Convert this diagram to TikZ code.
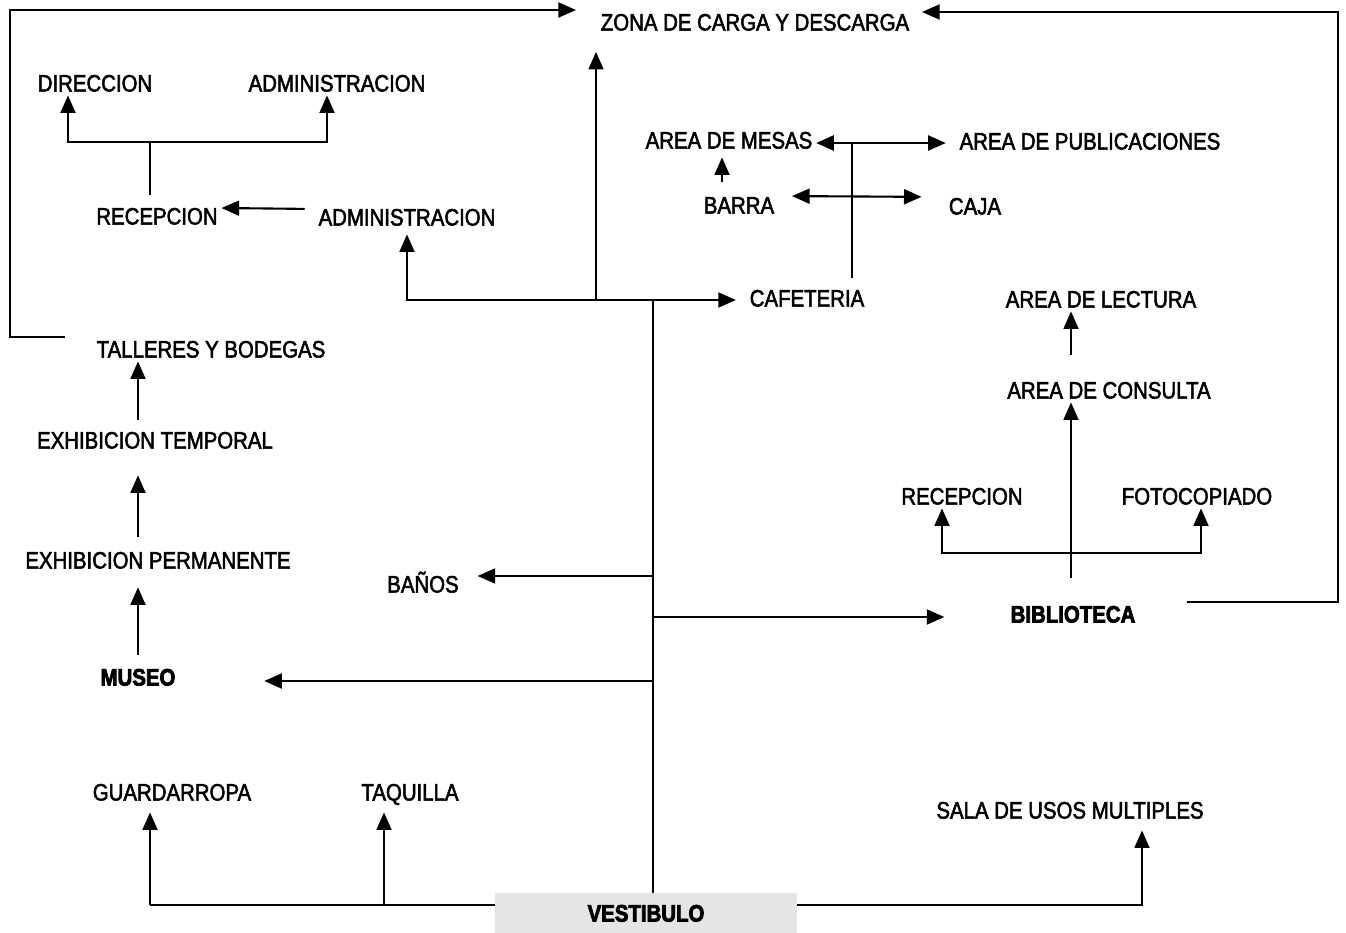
\documentclass[tikz,border=0pt]{standalone}
\usepackage{fontspec}
\setmainfont[FakeStretch=0.86, FakeBold=2.2, BoldFeatures={FakeBold=3.2}]{Liberation Sans}
\usetikzlibrary{arrows.meta}

\begin{document}
\begin{tikzpicture}[x=0.02cm, y=-0.02cm,
  lbl/.style={inner sep=2pt, text height=9.7pt, text depth=0pt,
              font=\fontsize{13.5}{16}\selectfont},
  strong/.style={lbl, font=\fontsize{13.5}{16}\selectfont\bfseries},
  hall/.style={strong, fill=black!10, minimum width=6.04cm, minimum height=0.8cm},
  link/.style={line width=1.2pt, black},
  arrow/.style={link, -{Triangle[length=10pt, width=8.5pt]}},
  both/.style={link, {Triangle[length=10pt, width=8.5pt]}-{Triangle[length=10pt, width=8.5pt]}}
]
\useasboundingbox (0,0) rectangle (1346,933);

% areas
\node[lbl] (zona) at (755,22) {ZONA DE CARGA Y DESCARGA};
\node[lbl] (dir) at (95,83) {DIRECCION};
\node[lbl] (adm1) at (337,83) {ADMINISTRACION};
\node[lbl] (rec1) at (157,216) {RECEPCION};
\node[lbl] (adm2) at (407,217) {ADMINISTRACION};
\node[lbl] (talleres) at (211,349) {TALLERES Y BODEGAS};
\node[lbl] (temp) at (155,440) {EXHIBICION TEMPORAL};
\node[lbl] (perm) at (158,560) {EXHIBICION PERMANENTE};
\node[strong] (museo) at (138,677) {MUSEO};
\node[lbl] (banos) at (423,584) {BAÑOS};
\node[lbl] (guard) at (172,792) {GUARDARROPA};
\node[lbl] (taq) at (410,792) {TAQUILLA};
\node[hall] (vest) at (646,913) {VESTIBULO};
\node[lbl] (sala) at (1070,810) {SALA DE USOS MULTIPLES};
\node[strong] (bib) at (1073,614) {BIBLIOTECA};
\node[lbl] (rec2) at (962,496) {RECEPCION};
\node[lbl] (foto) at (1197,496) {FOTOCOPIADO};
\node[lbl] (cons) at (1109,390) {AREA DE CONSULTA};
\node[lbl] (lect) at (1101,299) {AREA DE LECTURA};
\node[lbl] (cafe) at (807,298) {CAFETERIA};
\node[lbl] (mesas) at (729,140) {AREA DE MESAS};
\node[lbl] (pub) at (1090,141) {AREA DE PUBLICACIONES};
\node[lbl] (barra) at (739,205) {BARRA};
\node[lbl] (caja) at (975,206) {CAJA};

% junctions
\coordinate (top) at (653,300);
\coordinate (zj) at (596,300);
\coordinate (loopl) at (10,10);
\coordinate (loopr) at (1338,12);
\coordinate (rj) at (150,142);
\coordinate (dj) at (68,142);
\coordinate (aj) at (327,142);
\coordinate (bj) at (653,576);
\coordinate (mj) at (653,681);
\coordinate (lj) at (653,617);
\coordinate (gj) at (150,905);
\coordinate (tj) at (384,905);
\coordinate (sj) at (1142,905);
\coordinate (cj) at (1071,553);
\coordinate (rj2) at (942,553);
\coordinate (fj) at (1201,553);
\coordinate (kj) at (852,143);

% main spine
\draw[link] (vest.north -| top) -- (top);
\draw[arrow, shorten >=.1cm] (top) -| (adm2.south);
\draw[arrow, shorten >=.2cm] (top) -- (cafe.west |- top);
\draw[arrow, shorten >=.35cm] (zj) -- (zj |- zona.south);
\draw[arrow, shorten >=.3cm] (bj) -- (bj -| banos.east);
\draw[arrow, shorten >=1.7cm] (mj) -- (mj -| museo.east);
\draw[arrow, shorten >=1.25cm] (lj) -- (lj -| bib.west);

% loops to the loading zone
\draw[arrow, shorten <=.55cm, shorten >=.42cm] (talleres.north west) -| (loopl) -- (zona.north west |- loopl);
\draw[arrow, shorten <=.95cm, shorten >=.18cm] (bib.north east) -| (loopr) -- (zona.east |- loopr);

% offices
\draw[link, shorten <=.18cm] (rec1.north -| rj) -- (rj);
\draw[arrow] (rj) -- (dj) -- (dj |- dir.south);
\draw[arrow] (rj) -- (aj) -- (aj |- adm1.south);
\draw[arrow, shorten <=.2cm] ([yshift=.16cm]adm2.west) -- ([yshift=.16cm]rec1.east);

% museum
\draw[arrow, shorten <=.2cm, shorten >=.3cm] (museo.north) -- (perm.south -| museo.north);
\draw[arrow, shorten <=.22cm, shorten >=.46cm] (perm.north -| museo.north) -- (temp.south -| museo.north);
\draw[arrow, shorten <=.16cm] (temp.north -| museo.north) -- (talleres.south -| museo.north);

% lobby
\draw[link] (vest.west |- gj) -- (gj);
\draw[arrow, shorten >=.16cm] (gj) -- (gj |- guard.south);
\draw[arrow, shorten >=.16cm] (tj) -- (tj |- taq.south);
\draw[arrow, shorten >=.16cm] (vest.east |- sj) -| (sj |- sala.south);

% library
\draw[arrow, shorten <=.48cm] (bib.north -| cj) -- (cons.south -| cj);
\draw[arrow] (cj) -- (rj2) -- (rj2 |- rec2.south);
\draw[arrow] (cj) -- (fj) -- (fj |- foto.south);
\draw[arrow, shorten <=.46cm] (cons.north -| cj) -- (lect.south -| cj);

% cafeteria
\draw[link, shorten <=.16cm] (cafe.north -| kj) -- (kj);
\draw[arrow] (kj) -- (kj -| mesas.east);
\draw[arrow, shorten >=.2cm] (kj) -- (kj -| pub.west);
\draw[both, shorten <=.28cm, shorten >=.47cm] ([yshift=.18cm]barra.east) -- ([yshift=.18cm]caja.west);
\draw[arrow, shorten <=.22cm, shorten >=.1cm] ([xshift=-.34cm]barra.north) -- ([xshift=-.34cm]barra.north |- mesas.south);
\end{tikzpicture}
\end{document}
